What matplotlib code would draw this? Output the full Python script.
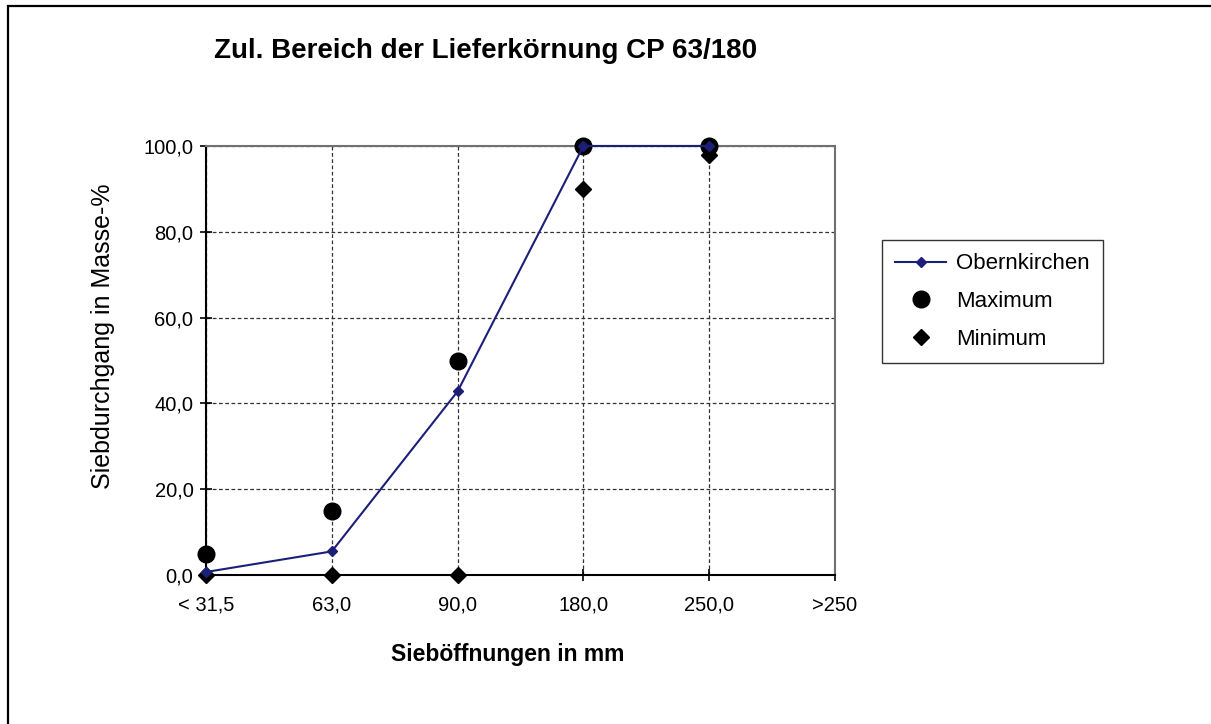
import matplotlib.pyplot as plt
from matplotlib.patches import Rectangle

# Sieve openings (categories) and passing percentages
categories = ['< 31,5', '63,0', '90,0', '180,0', '250,0', '>250']
obernkirchen = [0.7, 5.5, 42.8, 100.0, 100.0]
maximum = [5.0, 15.0, 50.0, 100.0, 100.0, 100.0]
minimum = [0.0, 0.0, 0.0, 90.0, 98.0, 100.0]
y_ticks = [0, 20, 40, 60, 80, 100]

plt.rcParams['font.family'] = ['Liberation Sans', 'DejaVu Sans']

fig = plt.figure(figsize=(12.11, 7.24), dpi=100)
ax = fig.add_axes([206 / 1211, 1 - 575 / 724, (835 - 206) / 1211, (575 - 146) / 724])

# outer chart frame (open to the right and bottom, as in the reference crop)
fig.patches.append(Rectangle((8 / 1211, -0.1), 1.2, 1 - 6 / 724 + 0.1,
                             transform=fig.transFigure, fill=False,
                             edgecolor='black', linewidth=1.6, zorder=0))

x = list(range(len(categories)))

ax.plot(x[:len(obernkirchen)], obernkirchen, color='#1c1f78', linewidth=1.5,
        marker='D', markersize=5, label='Obernkirchen', zorder=4, clip_on=False)
ax.plot(x[:5], maximum[:5], linestyle='none', marker='o', markersize=12,
        color='black', label='Maximum', zorder=3, clip_on=False)
ax.plot(x[:5], minimum[:5], linestyle='none', marker='D', markersize=8,
        color='black', label='Minimum', zorder=3, clip_on=False)

ax.set_xlim(0, len(categories) - 1)
ax.set_ylim(0, 100)
ax.set_xticks(x)
ax.set_xticklabels(categories, fontsize=14.5)
ax.set_yticks(y_ticks)
ax.set_yticklabels([f'{v:.1f}'.replace('.', ',') for v in y_ticks], fontsize=14.5)
ax.tick_params(axis='both', direction='inout', length=8, width=1.2, colors='black')
ax.tick_params(axis='x', pad=11)
ax.tick_params(axis='y', pad=5)

ax.grid(True, linestyle=(0, (3, 2)), color='#333333', linewidth=0.9)
ax.set_axisbelow(True)

ax.spines['left'].set_linewidth(1.5)
ax.spines['bottom'].set_linewidth(1.5)
for side in ('top', 'right'):
    ax.spines[side].set_color('#707070')
    ax.spines[side].set_linewidth(1.5)

ax.set_ylabel('Siebdurchgang in Masse-%', fontsize=18)
ax.yaxis.set_label_coords((103 - 206) / (835 - 206), (575 - 336) / (575 - 146))
ax.set_xlabel('Sieböffnungen in mm', fontsize=16.5, fontweight='bold')
ax.xaxis.set_label_coords((508 - 206) / (835 - 206), -(655 - 575) / (575 - 146))
ax.xaxis.label.set_va('center')
ax.yaxis.label.set_va('center')
fig.text(486 / 1211, 1 - 51 / 724, 'Zul. Bereich der Lieferkörnung CP 63/180',
         fontsize=20, fontweight='bold', ha='center', va='center')

leg = ax.legend(loc='upper left', bbox_to_anchor=(882 / 1211, 1 - 240 / 724),
                bbox_transform=fig.transFigure, borderaxespad=0, fontsize=16,
                frameon=True, fancybox=False, edgecolor='black', borderpad=0.6,
                labelspacing=0.75, handlelength=2.3, handletextpad=0.45)
leg.get_frame().set_linewidth(1.0)

fig.savefig('out.png', dpi=100)
